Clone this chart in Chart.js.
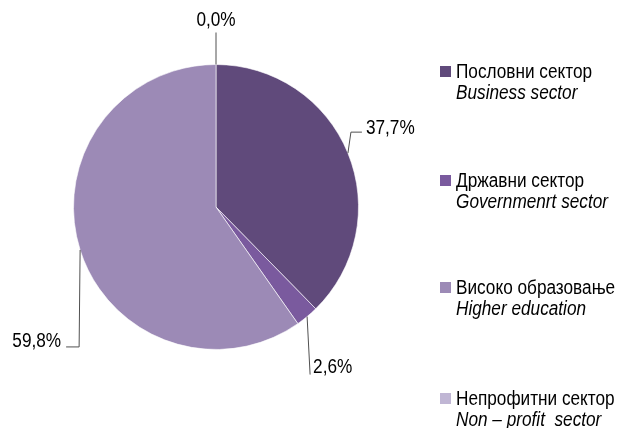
<!DOCTYPE html>
<html>
<head>
<meta charset="utf-8">
<script src="https://cdn.jsdelivr.net/npm/chart.js@4.4.0/dist/chart.umd.min.js"></script>
<style>
  html, body { margin:0; padding:0; background:#fff; }
  #wrap { position:relative; width:621px; height:428px; }
  canvas { position:absolute; left:0; top:0; }
  .leg { position:absolute; left:440px; font-family:"Liberation Sans","Arial",sans-serif; font-size:20px; color:#000; line-height:21px; }
  .leg .sq { position:absolute; left:0; top:5px; width:11px; height:11px; }
  .leg .t, .leg .t2 { position:absolute; left:16px; white-space:nowrap; transform:scaleX(0.86); transform-origin:0 0; }
  .leg .t2 { top:21px; font-style:italic; }
</style>
</head>
<body>
<div id="wrap">
  <canvas id="c" width="621" height="428"></canvas>
</div>
<script>
const categoriesSr = ["Пословни сектор", "Државни сектор", "Високо образовање", "Непрофитни сектор"];
const categoriesEn = ["Business sector", "Governmenrt sector", "Higher education", "Non \u2013 profit  sector"];
const values = [37.7, 2.6, 59.8, 0.0];
const colors = ["#604A7B", "#7A5A9E", "#9C8AB6", "#C0B6D4"];

// legend rows (top of each entry)
const legendTops = [61, 170, 277, 388];
const wrap = document.getElementById('wrap');
categoriesSr.forEach((c, i) => {
  const d = document.createElement('div');
  d.className = 'leg';
  d.style.top = legendTops[i] + 'px';
  d.innerHTML = '<div class="sq" style="background:' + colors[i] + '"></div>' +
    '<div class="t">' + c + '</div><div class="t2">' + categoriesEn[i].replace(/  /g, ' \u00a0') + '</div>';
  wrap.appendChild(d);
});

// leader line layout relative to arc edge midpoint
const leaderLayout = [
  { elbow: [3, -21], run: 11, align: 'left', tdx: 4, tdy: -4 },
  { elbow: [3, 58], run: 0, align: 'left', tdx: 3, tdy: -7 },
  { elbow: [-1, 97], run: -13, align: 'right', tdx: -5, tdy: -5 },
  { elbow: [0, -32], run: 0, align: 'center', tdx: 0, tdy: -12 }
];

const leaderPlugin = {
  id: 'leaders',
  afterDatasetsDraw(chart) {
    const ctx = chart.ctx;
    const meta = chart.getDatasetMeta(0);
    meta.data.forEach((arc, i) => {
      const p = arc.getProps(['x', 'y', 'startAngle', 'endAngle', 'outerRadius'], true);
      const mid = (p.startAngle + p.endAngle) / 2;
      const ex = p.x + Math.cos(mid) * p.outerRadius;
      const ey = p.y + Math.sin(mid) * p.outerRadius;
      const L = leaderLayout[i];
      const bx = ex + L.elbow[0], by = ey + L.elbow[1];
      const fx = bx + L.run;
      ctx.save();
      ctx.strokeStyle = '#505050';
      ctx.lineWidth = 1;
      ctx.beginPath();
      ctx.moveTo(ex, ey);
      ctx.lineTo(bx, by);
      if (L.run !== 0) ctx.lineTo(fx, by);
      ctx.stroke();
      ctx.fillStyle = '#000';
      ctx.font = '20px "Liberation Sans", Arial, sans-serif';
      ctx.textAlign = L.align;
      ctx.textBaseline = 'middle';
      const txt = values[i].toFixed(1).replace('.', ',') + '%';
      ctx.translate(fx + L.tdx, by + L.tdy);
      ctx.scale(0.86, 1);
      ctx.fillText(txt, 0, 0);
      ctx.restore();
    });
  }
};

new Chart(document.getElementById('c'), {
  type: 'pie',
  data: {
    labels: categoriesSr,
    datasets: [{
      data: values,
      backgroundColor: colors,
      borderColor: 'rgba(255,255,255,0.6)',
      borderWidth: 1
    }]
  },
  options: {
    responsive: false,
    animation: false,
    layout: { padding: { left: 73, right: 262, top: 64, bottom: 78 } },
    plugins: { legend: { display: false }, tooltip: { enabled: false } }
  },
  plugins: [leaderPlugin]
});
</script>
</body>
</html>
